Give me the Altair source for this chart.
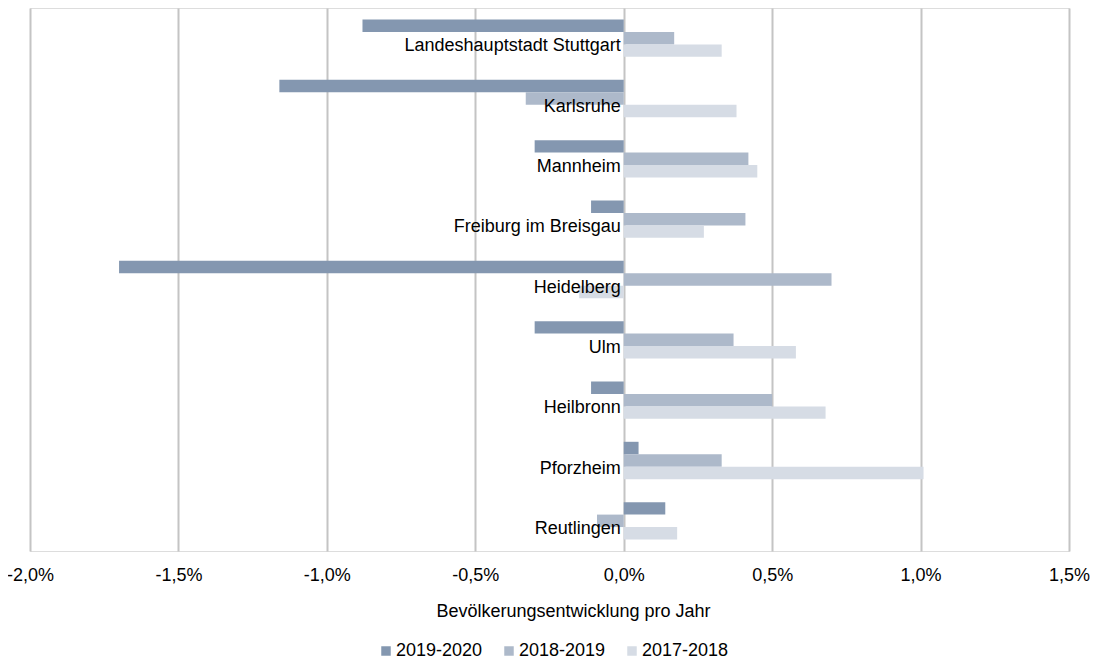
import altair as alt
import pandas as pd

cities = ["Landeshauptstadt Stuttgart", "Karlsruhe", "Mannheim", "Freiburg im Breisgau",
          "Heidelberg", "Ulm", "Heilbronn", "Pforzheim", "Reutlingen"]
series = ["2019-2020", "2018-2019", "2017-2018"]
v2019_2020 = [-0.88, -1.16, -0.30, -0.11, -1.70, -0.30, -0.11, 0.05, 0.14]
v2018_2019 = [0.17, -0.33, 0.42, 0.41, 0.70, 0.37, 0.50, 0.33, -0.09]
v2017_2018 = [0.33, 0.38, 0.45, 0.27, -0.15, 0.58, 0.68, 1.01, 0.18]
colors = ["#8497b0", "#adb9ca", "#d6dce5"]
x_ticks = [-2.0, -1.5, -1.0, -0.5, 0.0, 0.5, 1.0, 1.5]

rows = []
for s, vals in zip(series, [v2019_2020, v2018_2019, v2017_2018]):
    for c, v in zip(cities, vals):
        rows.append({"Stadt": c, "Zeitraum": s, "Wert": v})
df = pd.DataFrame(rows)
labels_df = pd.DataFrame({"Stadt": cities, "zero": [0.0] * len(cities)})

FONT = "Liberation Sans"
TXT = "#000000"

x_scale = alt.Scale(domain=[-2.0, 1.5], nice=False, zero=False)
y_scale = alt.Scale(domain=cities, paddingInner=0.38, paddingOuter=0.19)

bars = alt.Chart(df).mark_bar(cornerRadius=0).encode(
    x=alt.X("Wert:Q", scale=x_scale,
            axis=alt.Axis(values=x_ticks, title="Bevölkerungsentwicklung pro Jahr",
                          labelExpr="(datum.value < 0 ? '-' : '') + replace(format(abs(datum.value), '.1f'), '.', ',') + '%'",
                          grid=True, gridColor="#c4c4c4", gridWidth=2,
                          domain=False, ticks=False, labelPadding=15,
                          labelFlush=False, labelOverlap=False, labelBound=False,
                          labelFontSize=18, labelColor=TXT, labelFont=FONT,
                          titleFontSize=18, titleFont=FONT, titleColor=TXT,
                          titleFontWeight="normal", titlePadding=18,
                          titleX=543, titleAlign="center")),
    y=alt.Y("Stadt:N", scale=y_scale, axis=None, sort=cities),
    yOffset=alt.YOffset("Zeitraum:N", sort=series),
    color=alt.Color("Zeitraum:N", sort=series,
                    scale=alt.Scale(domain=series, range=colors),
                    legend=alt.Legend(title=None, orient="none", direction="horizontal",
                                      legendX=347, legendY=634,
                                      symbolType="square", symbolSize=90, symbolStrokeWidth=0,
                                      labelFontSize=18, labelFont=FONT, labelColor=TXT,
                                      columnPadding=17, symbolOffset=0,
                                      labelOffset=1)),
)

labels = alt.Chart(labels_df).mark_text(align="right", baseline="middle", dx=-3, dy=8,
                                        fontSize=18, font=FONT, color=TXT).encode(
    x=alt.X("zero:Q", scale=x_scale),
    y=alt.Y("Stadt:N", scale=y_scale, sort=cities),
    text="Stadt:N",
)

chart = alt.layer(bars, labels).properties(
    width=1039, height=543,
    padding={"left": -2, "top": 0, "right": 0, "bottom": 0},
).configure_view(stroke=None).configure(background="white")

chart.save("out.html", embed_options={"renderer": "svg", "actions": False})
